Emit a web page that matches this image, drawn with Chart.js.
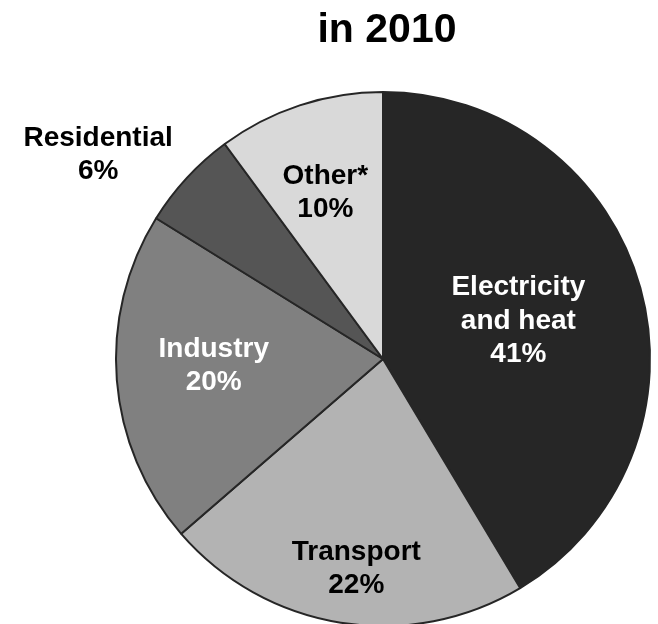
<!DOCTYPE html>
<html>
<head>
<meta charset="utf-8">
<script src="https://cdn.jsdelivr.net/npm/chart.js@4/dist/chart.umd.min.js"></script>
<style>
  html, body { margin: 0; padding: 0; background: #fff; overflow: hidden; }
  #wrap { position: relative; width: 658px; height: 630px; }
</style>
</head>
<body>
<div id="wrap"><canvas id="pie"></canvas></div>
<script>
// ===== data =====
const sectors = ['Electricity and heat', 'Transport', 'Industry', 'Residential', 'Other*']
const shares = [41, 22, 20, 6, 10]
const sliceColors = ['#262626', '#b3b3b3', '#808080', '#555555', '#d9d9d9']
const labelLines = [['Electricity', 'and heat', '41%'], ['Transport', '22%'], ['Industry', '20%'], ['Residential', '6%'], ['Other*', '10%']]
const titleText = 'in 2010'

// label placement relative to pie centre, in units of radius
const labelPos = [
  { dx: 0.507, dy: -0.142, color: '#fff' },
  { dx: -0.100, dy: 0.786, color: '#000' },
  { dx: -0.634, dy: 0.026, color: '#fff' },
  { dx: -1.067, dy: -0.765, color: '#000' },
  { dx: -0.216, dy: -0.623, color: '#000' }
]

const FONT = '"Liberation Sans", Arial, sans-serif'

const labelPlugin = {
  id: 'sliceLabels',
  afterDraw(chart) {
    const ctx = chart.ctx
    const arc = chart.getDatasetMeta(0).data[0]
    if (!arc) return
    const cx = arc.x, cy = arc.y, r = arc.outerRadius
    ctx.save()
    // title
    ctx.fillStyle = '#000'
    ctx.font = `bold 41px ${FONT}`
    ctx.textAlign = 'center'
    ctx.textBaseline = 'alphabetic'
    ctx.fillText(titleText, 387, 42)

    ctx.font = `bold 28px ${FONT}`
    ctx.textBaseline = 'middle'
    const lh = 33.5
    labelLines.forEach((lines, i) => {
      const p = labelPos[i]
      const x = cx + p.dx * r
      const y0 = cy + p.dy * r - (lines.length - 1) * lh / 2
      ctx.fillStyle = p.color
      lines.forEach((t, j) => ctx.fillText(t, x, y0 + j * lh))
    })
    ctx.restore()
  }
}

new Chart(document.getElementById('pie'), {
  type: 'pie',
  data: {
    labels: sectors,
    datasets: [{
      data: shares,
      backgroundColor: sliceColors,
      borderColor: '#262626',
      borderWidth: 2
    }]
  },
  options: {
    responsive: true, maintainAspectRatio: false,
    animation: false,
    layout: { padding: { top: 91, bottom: 3, left: 115, right: 7 } },
    plugins: { legend: { display: false }, tooltip: { enabled: false }, title: { display: false } }
  },
  plugins: [labelPlugin]
})
</script>
</body>
</html>
